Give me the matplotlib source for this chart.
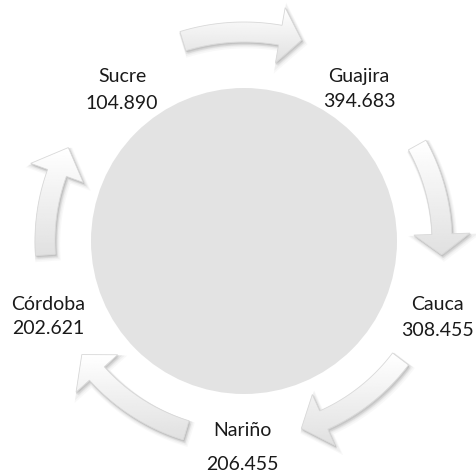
import numpy as np
import matplotlib
matplotlib.use('Agg')
import matplotlib.pyplot as plt
from matplotlib.patches import Circle, Polygon

'''
DATOS
'''
departamentos = ['Sucre', 'Guajira', 'Cauca', 'Nariño', 'Córdoba']
valores = [104890, 394683, 308455, 206455, 202621]

'''
DISEÑO (pixeles, y hacia abajo)
'''
centro = (244, 241)
radio_circulo = 153
# centro de la etiqueta (x, y) y separacion entre nombre y valor
pos_etiquetas = [(122, 90), (359, 89), (437, 317), (242, 447), (48, 317)]
sep_lineas = [27, 25, 26, 34, 24]
# flechas: (radio, angulo cola, angulo base punta, angulo punta)
flechas = [
    (209, 107, 80, 74),
    (198, 29, 2, -4),
    (196, -37, -66, -73),
    (198, -107, -138, -145),
    (199, 184, 160, 152),
]


def fmt(v):
    return f'{v:,}'.replace(',', '.')


def punto(r, ang):
    a = np.radians(ang)
    return centro[0] + r * np.cos(a), centro[1] - r * np.sin(a)


def poligono_flecha(r, a_cola, a_base, a_punta, ancho=20, ancho_punta=56):
    angs = np.linspace(a_cola, a_base, 40)
    ext = [punto(r + ancho / 2, a) for a in angs]
    inte = [punto(r - ancho / 2, a) for a in angs[::-1]]
    cabeza = [punto(r + ancho_punta / 2, a_base), punto(r, a_punta),
              punto(r - ancho_punta / 2, a_base)]
    return np.array(ext + cabeza + inte)


def main():
    fig = plt.figure(figsize=(4.76, 4.71), dpi=100)
    ax = fig.add_axes([0, 0, 1, 1])
    ax.set_xlim(0, 476)
    ax.set_ylim(471, 0)
    ax.set_aspect('equal')
    ax.axis('off')

    ax.add_patch(Circle(centro, radio_circulo, facecolor='#e3e3e3', edgecolor='none', zorder=1))

    grad = np.linspace(1.0, 0.88, 64).reshape(-1, 1)
    for r, a0, a1, a2 in flechas:
        pts = poligono_flecha(r, a0, a1, a2)
        # sombra difusa
        for k, al in [(4, 0.05), (3, 0.07), (2, 0.10), (1, 0.12)]:
            ax.add_patch(Polygon(pts + [k * 0.6, k * 0.9], closed=True, facecolor='#808080',
                                 edgecolor='#808080', linewidth=k, alpha=al, zorder=2))
        parche = Polygon(pts, closed=True, facecolor='none', edgecolor='#d9d9d9',
                         linewidth=0.6, zorder=4)
        ax.add_patch(parche)
        x0, y0 = pts.min(axis=0)
        x1, y1 = pts.max(axis=0)
        im = ax.imshow(grad, cmap='gray', vmin=0, vmax=1, extent=(x0, x1, y1, y0),
                       aspect='auto', interpolation='bilinear', zorder=3)
        im.set_clip_path(parche)

    ax.set_xlim(0, 476)
    ax.set_ylim(471, 0)

    for nombre, v, (x, y), s in zip(departamentos, valores, pos_etiquetas, sep_lineas):
        ax.text(x, y - s / 2, nombre, ha='center', va='center', fontsize=14,
                family=['Lato', 'DejaVu Sans'], color='#1a1a1a', zorder=5)
        ax.text(x, y + s / 2, fmt(v), ha='center', va='center', fontsize=14,
                family=['Lato', 'DejaVu Sans'], color='#1a1a1a', zorder=5)

    fig.savefig('out.png', dpi=100, facecolor='white')


if __name__ == "__main__":
    main()
